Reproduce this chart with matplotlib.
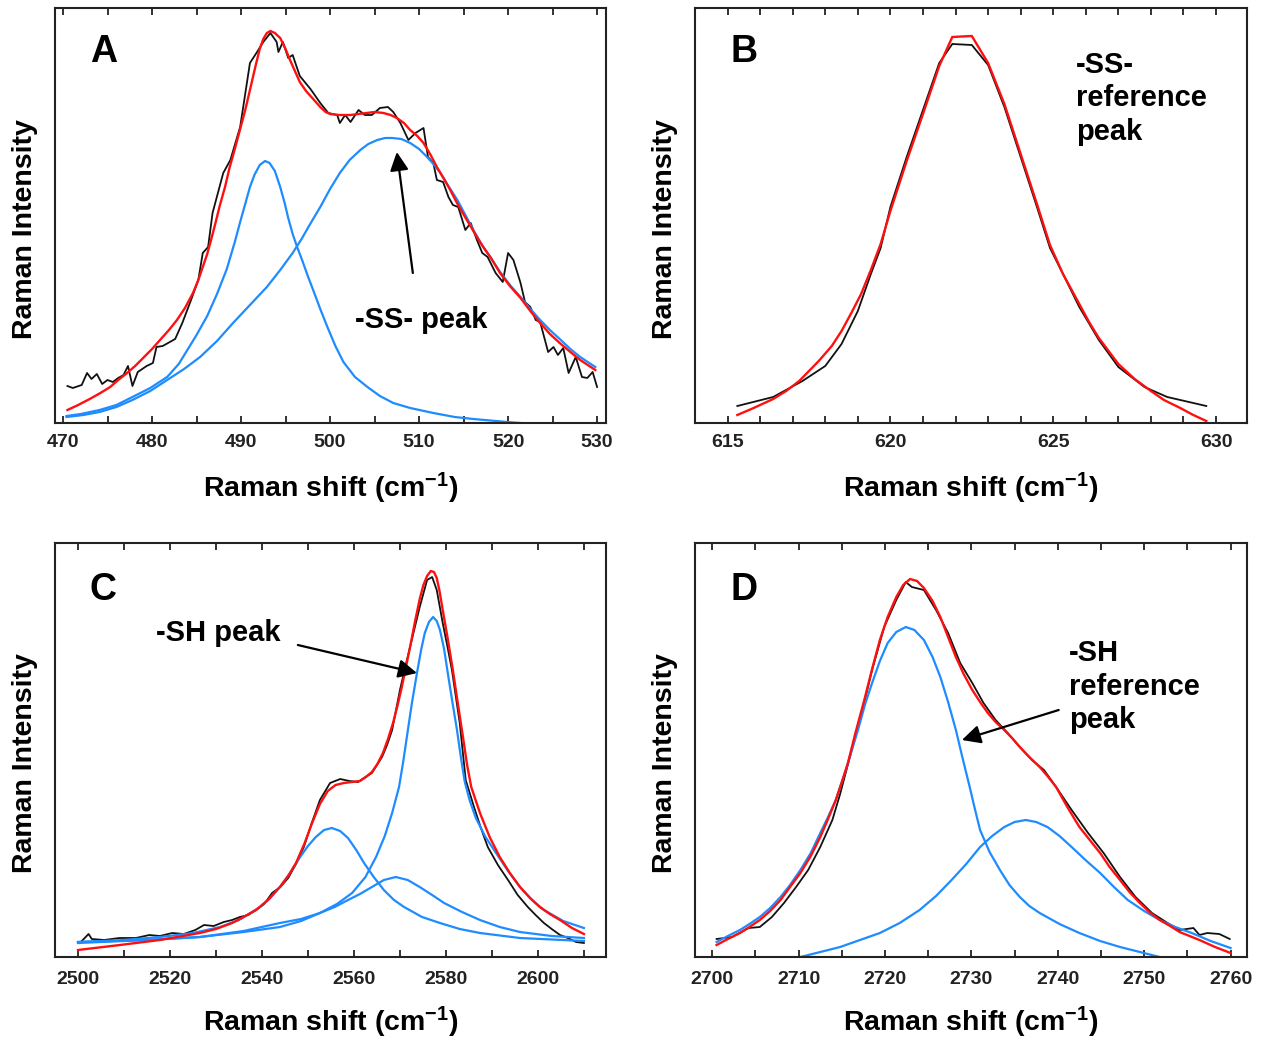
import matplotlib
matplotlib.use('Agg')
import matplotlib.pyplot as plt
from matplotlib.ticker import MultipleLocator

plt.rcParams['font.family'] = ['Liberation Sans', 'DejaVu Sans']
plt.rcParams['font.weight'] = 'bold'
plt.rcParams['mathtext.fontset'] = 'custom'
plt.rcParams['mathtext.rm'] = 'Liberation Sans:bold'
plt.rcParams['mathtext.bf'] = 'Liberation Sans:bold'
plt.rcParams['mathtext.default'] = 'bf'

BLACK = '#111111'
RED = '#ff1010'
BLUE = '#1e8cff'

# ---- panel A: -SS- region (x = Raman shift, y = intensity, arb. units)
a_meas = [(470.5, 37), (471.1, 35), (472.1, 38), (472.7, 50), (473.2, 44), (473.8, 49),
          (474.4, 39), (475.0, 43), (475.6, 41), (476.2, 45), (476.8, 48), (477.3, 57),
          (477.8, 37), (478.4, 51), (479.4, 57), (480.1, 60), (480.5, 76), (481.2, 77),
          (482.0, 81), (482.6, 84), (483.4, 100), (484.3, 121), (485.2, 143), (485.7, 170),
          (486.3, 176), (486.8, 210), (488.0, 250), (488.8, 263), (489.9, 296), (491.0, 360),
          (491.8, 371), (492.5, 381), (493.3, 390), (494.0, 381), (494.2, 371), (494.7, 381),
          (495.3, 365), (495.8, 368), (496.6, 347), (497.8, 334), (498.9, 320), (499.8, 310),
          (500.8, 308), (501.1, 300), (501.7, 308), (502.3, 301), (503.2, 313), (503.9, 308),
          (504.7, 308), (505.6, 315), (506.5, 316), (507.1, 311), (507.9, 300), (508.8, 283),
          (509.6, 290), (510.5, 295), (511.0, 266), (511.6, 260), (512.0, 243), (512.7, 241),
          (513.3, 226), (513.8, 218), (514.4, 216), (515.2, 193), (515.8, 200), (516.5, 183),
          (517.1, 170), (517.7, 166), (518.6, 150), (519.4, 141), (520.0, 170), (520.6, 163),
          (521.4, 140), (521.9, 121), (522.5, 116), (523.1, 103), (523.6, 101), (524.5, 71),
          (525.1, 76), (525.6, 68), (526.2, 75), (526.8, 50), (527.6, 66), (528.3, 46),
          (528.9, 45), (529.5, 51), (530.0, 36)]
a_fit = [(470.5, 13), (471.7, 18), (473.0, 24), (474.2, 30), (475.3, 36), (476.2, 43),
         (477.2, 50), (478.1, 57), (479.0, 65), (480.0, 74), (480.9, 83), (481.9, 93),
         (482.8, 103), (483.7, 115), (484.6, 130), (485.2, 143), (485.7, 156), (486.2, 169),
         (486.6, 182), (487.1, 199), (487.6, 217), (488.2, 236), (488.7, 255), (489.3, 274),
         (489.9, 294), (490.5, 314), (491.0, 333), (491.6, 356), (492.1, 374), (492.5, 384),
         (492.9, 390), (493.3, 392), (493.8, 390), (494.4, 385), (495.0, 374), (495.5, 363),
         (496.1, 351), (496.6, 341), (497.3, 332), (498.0, 325), (498.9, 316), (499.5, 311),
         (500.0, 309), (501.0, 308), (502.3, 308), (503.2, 309), (504.1, 310), (505.0, 311),
         (506.0, 310), (506.8, 308), (507.5, 305), (508.3, 300), (509.0, 293), (509.8, 287),
         (510.5, 280), (511.3, 268), (512.0, 256), (512.8, 244), (513.5, 233), (514.2, 221),
         (514.9, 210), (515.7, 198), (516.5, 186), (517.2, 176), (518.0, 166), (519.1, 150),
         (520.2, 137), (521.4, 125), (522.5, 112), (523.6, 100), (524.7, 89), (525.8, 80),
         (527.0, 71), (528.1, 63), (529.8, 53)]
a_comp1 = [(470.4, 7), (472.0, 9), (474.1, 13), (476.0, 18), (477.8, 26), (479.8, 35),
           (481.7, 46), (483.0, 59), (483.9, 72), (485.0, 88), (486.2, 107), (487.3, 129),
           (488.4, 154), (489.3, 181), (489.9, 201), (490.5, 220), (491.0, 236), (491.5, 248),
           (492.1, 258), (492.7, 262), (493.2, 260), (493.8, 252), (494.4, 236), (494.9, 220),
           (495.3, 205), (495.8, 189), (496.3, 176), (496.9, 162), (497.5, 147), (498.1, 133),
           (498.9, 114), (499.7, 96), (500.6, 77), (501.5, 61), (502.8, 46), (504.2, 36),
           (505.6, 27), (507.1, 20), (509.0, 15), (511.6, 10), (514.0, 6), (516.1, 4),
           (519.9, 1), (521.4, 0)]
a_comp2 = [(470.4, 6), (472.3, 8), (474.1, 11), (476.0, 16), (477.8, 23), (479.8, 32),
           (481.7, 43), (483.6, 54), (485.4, 66), (487.3, 82), (489.1, 100), (491.0, 118),
           (492.9, 136), (494.4, 153), (495.8, 170), (496.8, 184), (497.7, 198), (498.9, 216),
           (500.0, 234), (501.1, 250), (502.2, 263), (503.4, 273), (504.3, 279), (505.3, 283),
           (506.2, 285), (507.0, 285), (508.0, 284), (509.0, 280), (510.0, 274), (510.9, 266),
           (511.7, 258), (512.4, 250), (513.3, 237), (514.3, 223), (515.2, 208), (516.1, 193),
           (517.0, 179), (518.0, 166), (519.1, 151), (520.3, 137), (521.4, 126), (522.5, 114),
           (523.6, 103), (524.7, 93), (525.8, 84), (527.0, 74), (528.1, 66), (529.8, 56)]

# ---- panel B: -SS- reference peak
b_meas = [(615.3, 17), (616.4, 26), (617.3, 42), (618.0, 57), (618.5, 79), (619.0, 112),
          (619.4, 149), (619.7, 175), (620.0, 216), (620.5, 266), (621.0, 313), (621.5, 360),
          (621.9, 379), (622.5, 378), (623.0, 358), (623.5, 316), (624.0, 266), (624.5, 216),
          (624.9, 175), (625.3, 149), (625.8, 116), (626.4, 83), (627.0, 56), (627.8, 36),
          (628.5, 26), (629.7, 17)]
b_fit = [(615.3, 8), (615.8, 15), (616.4, 24), (616.8, 32), (617.2, 42), (617.8, 62),
         (618.2, 77), (618.5, 92), (618.8, 110), (619.1, 129), (619.4, 153), (619.7, 179),
         (620.0, 212), (620.5, 262), (621.0, 309), (621.5, 357), (621.9, 386), (622.5, 387),
         (623.0, 360), (623.5, 319), (624.0, 269), (624.5, 219), (624.9, 178), (625.3, 149),
         (625.8, 119), (626.1, 101), (626.4, 85), (627.0, 59), (627.5, 44), (628.0, 32),
         (628.4, 23), (628.9, 15), (629.3, 8), (629.7, 2)]

# ---- panel C: -SH region
c_meas = [(2500.4, 14), (2502.3, 23), (2503.0, 18), (2505.7, 17), (2509.0, 19), (2512.6, 19),
          (2515.5, 22), (2517.8, 21), (2520.5, 24), (2523.0, 23), (2525.5, 27), (2527.4, 32),
          (2529.5, 31), (2531.7, 35), (2533.5, 37), (2535.2, 40), (2537.0, 42), (2538.7, 47),
          (2540.5, 53), (2542.2, 64), (2544.0, 70), (2545.7, 79), (2547.4, 93), (2549.1, 110),
          (2550.9, 135), (2552.6, 157), (2554.8, 174), (2557.0, 178), (2559.0, 176), (2560.9, 175),
          (2562.5, 180), (2563.9, 184), (2566.1, 200), (2567.2, 212), (2568.3, 227), (2570.0, 267),
          (2571.1, 289), (2572.2, 310), (2573.3, 331), (2574.3, 350), (2575.9, 377), (2577.0, 380),
          (2578.0, 367), (2579.3, 334), (2580.3, 311), (2581.3, 287), (2583.0, 234), (2584.3, 177),
          (2586.1, 150), (2587.6, 129), (2589.1, 110), (2591.3, 92), (2593.5, 77), (2595.6, 62),
          (2597.8, 50), (2599.5, 42), (2601.3, 34), (2603.0, 28), (2604.8, 22), (2606.5, 19),
          (2608.3, 15), (2610.0, 14)]
c_fit = [(2500.0, 7), (2509.1, 12), (2517.8, 17), (2526.5, 24), (2530.0, 28), (2533.5, 34),
         (2536.0, 40), (2538.7, 47), (2541.3, 57), (2543.9, 70), (2545.7, 81), (2547.4, 94),
         (2549.2, 113), (2550.9, 134), (2552.6, 153), (2554.3, 166), (2556.0, 172), (2557.8, 174),
         (2559.5, 175), (2561.3, 176), (2562.6, 180), (2563.9, 185), (2565.1, 193), (2566.3, 204),
         (2567.4, 218), (2568.5, 234), (2569.5, 252), (2570.4, 270), (2571.3, 290), (2572.2, 310),
         (2573.3, 336), (2574.3, 358), (2575.1, 372), (2575.9, 381), (2576.7, 386), (2577.4, 385),
         (2578.0, 379), (2578.6, 366), (2579.3, 347), (2580.4, 318), (2581.5, 287), (2582.6, 253),
         (2583.7, 220), (2584.6, 192), (2585.5, 170), (2587.4, 144), (2589.5, 120), (2591.7, 100),
         (2593.9, 84), (2596.1, 70), (2598.3, 59), (2600.4, 50), (2602.6, 43), (2604.8, 37),
         (2607.4, 29), (2610.0, 23)]
c_comp1 = [(2500.0, 15), (2510.0, 17), (2517.8, 20), (2525.0, 24), (2530.9, 30), (2535.0, 37),
           (2539.6, 50), (2541.8, 59), (2543.9, 70), (2546.1, 84), (2548.3, 100), (2550.0, 111),
           (2551.7, 120), (2553.5, 127), (2555.2, 129), (2557.0, 126), (2558.7, 119), (2560.5, 107),
           (2562.2, 94), (2564.3, 80), (2566.5, 67), (2568.7, 57), (2570.9, 50), (2574.8, 40),
           (2578.7, 34), (2583.0, 28), (2587.4, 24), (2596.1, 19), (2610.0, 16)]
c_comp2 = [(2500.0, 14), (2515.0, 17), (2526.5, 20), (2536.0, 25), (2543.9, 30), (2548.5, 36),
           (2552.6, 44), (2555.8, 50), (2558.7, 57), (2561.3, 63), (2563.9, 70), (2566.5, 77),
           (2569.1, 80), (2571.7, 77), (2574.3, 70), (2577.0, 62), (2579.6, 54), (2583.5, 45),
           (2587.4, 37), (2591.7, 30), (2596.1, 25), (2603.0, 21), (2610.0, 19)]
c_comp3 = [(2500.0, 15), (2515.0, 17), (2526.5, 20), (2536.0, 26), (2543.9, 34), (2548.5, 38),
           (2552.6, 44), (2556.3, 53), (2559.6, 64), (2562.5, 80), (2564.8, 100), (2566.7, 121),
           (2568.3, 144), (2569.8, 170), (2570.7, 195), (2571.5, 220), (2572.6, 254), (2573.7, 284),
           (2574.6, 307), (2575.4, 324), (2576.3, 335), (2577.2, 340), (2578.0, 336), (2578.7, 327),
           (2579.6, 308), (2580.4, 284), (2581.4, 255), (2582.4, 227), (2583.3, 198), (2584.1, 175),
           (2585.2, 156), (2586.5, 139), (2588.6, 120), (2590.9, 104), (2593.5, 86), (2596.1, 70),
           (2598.7, 57), (2601.3, 47), (2605.5, 36), (2610.0, 29)]

# ---- panel D: -SH reference region
d_meas = [(2700.5, 18), (2702.3, 20), (2704.2, 29), (2705.5, 30), (2706.9, 40), (2708.3, 54),
          (2709.7, 70), (2711.1, 87), (2712.5, 110), (2713.9, 137), (2714.8, 163), (2716.6, 222),
          (2717.6, 255), (2718.5, 287), (2719.9, 330), (2721.3, 357), (2722.4, 375), (2723.1, 370),
          (2724.5, 367), (2725.9, 347), (2727.3, 324), (2728.7, 294), (2730.1, 274), (2731.4, 254),
          (2732.8, 237), (2734.2, 224), (2735.6, 210), (2737.0, 197), (2738.4, 187), (2739.8, 170),
          (2741.6, 147), (2743.5, 124), (2745.3, 104), (2747.2, 80), (2749.0, 60), (2750.9, 44),
          (2752.7, 34), (2754.1, 27), (2755.7, 29), (2756.4, 22), (2757.3, 24), (2758.7, 23),
          (2759.9, 18)]
d_fit = [(2700.5, 12), (2701.8, 18), (2703.2, 24), (2704.3, 30), (2705.5, 37), (2706.7, 46),
         (2707.9, 57), (2709.0, 70), (2710.2, 84), (2711.4, 101), (2712.5, 120), (2713.4, 138),
         (2714.3, 157), (2715.0, 175), (2715.7, 194), (2716.6, 225), (2717.6, 257), (2718.5, 288),
         (2719.4, 317), (2720.3, 340), (2721.3, 360), (2722.1, 372), (2722.9, 378), (2723.7, 376),
         (2724.5, 369), (2725.5, 356), (2726.4, 340), (2727.3, 320), (2728.2, 300), (2729.1, 283),
         (2730.1, 267), (2731.0, 255), (2731.9, 244), (2732.8, 235), (2733.8, 227), (2734.7, 219),
         (2735.6, 210), (2736.7, 200), (2737.9, 190), (2738.8, 181), (2739.8, 170), (2741.1, 150),
         (2742.5, 130), (2743.7, 117), (2744.9, 104), (2746.0, 90), (2747.2, 77), (2748.3, 65),
         (2749.5, 54), (2750.6, 45), (2751.8, 37), (2753.0, 31), (2754.1, 25), (2756.4, 17),
         (2758.2, 10), (2760.0, 4)]
d_comp1 = [(2700.5, 15), (2701.8, 21), (2703.2, 27), (2704.3, 33), (2705.5, 40), (2706.7, 49),
           (2707.9, 60), (2709.0, 72), (2710.2, 87), (2711.4, 104), (2712.5, 124), (2713.4, 140),
           (2714.3, 157), (2715.5, 188), (2716.9, 228), (2717.7, 253), (2718.5, 274), (2719.4, 296),
           (2720.3, 314), (2721.3, 325), (2722.4, 330), (2723.4, 327), (2724.5, 317), (2725.5, 300),
           (2726.4, 280), (2727.3, 255), (2728.2, 227), (2729.0, 198), (2729.8, 170), (2730.4, 148),
           (2731.0, 127), (2732.1, 105), (2733.3, 87), (2734.4, 72), (2735.6, 60), (2736.7, 51),
           (2737.9, 44), (2740.2, 33), (2742.5, 24), (2744.9, 16), (2747.2, 10), (2749.5, 5),
           (2751.8, 0)]
d_comp2 = [(2710.2, 0), (2712.5, 5), (2714.8, 10), (2717.1, 17), (2719.4, 24), (2721.7, 34),
           (2724.0, 47), (2725.9, 61), (2727.7, 77), (2729.4, 93), (2731.0, 110), (2732.4, 121),
           (2733.8, 130), (2735.0, 135), (2736.3, 137), (2737.5, 135), (2738.8, 130), (2740.2, 121),
           (2741.6, 110), (2743.2, 97), (2744.9, 84), (2746.5, 70), (2748.1, 57), (2750.0, 46),
           (2751.8, 37), (2753.6, 30), (2755.5, 24), (2757.7, 16), (2760.0, 9)]


def draw(ax, pts, color, lw):
    xs, ys = zip(*pts)
    ax.plot(xs, ys, color=color, lw=lw, solid_joinstyle='round')


def setup(ax, xlim, ymax, major, minor, letter, letter_y, pad):
    ax.set_xlim(*xlim)
    ax.set_ylim(0, ymax)
    ax.xaxis.set_major_locator(MultipleLocator(major))
    ax.xaxis.set_minor_locator(MultipleLocator(minor))
    ax.tick_params(axis='x', which='both', direction='in', top=True, length=5,
                   width=1.3, labelsize=14, pad=pad, colors='#222222')
    ax.set_yticks([])
    for s in ax.spines.values():
        s.set_linewidth(1.5)
        s.set_color('#222222')
    ax.set_xlabel('Raman shift (cm$^{-1}$)', fontsize=20.5, fontweight='bold')
    ax.set_ylabel('Raman Intensity', fontsize=20.5, fontweight='bold')
    ax.xaxis.set_label_coords(0.5, -0.115)
    ax.yaxis.set_label_coords(-0.031, 0.468)
    ax.text(0.088, letter_y, letter, transform=ax.transAxes, fontsize=27,
            fontweight='bold', ha='center', va='center')


fig = plt.figure(figsize=(12.65, 10.38), dpi=100)
axA = fig.add_axes([0.04348, 0.59249, 0.43557, 0.39981])
axB = fig.add_axes([0.54941, 0.59249, 0.43636, 0.39981])
axC = fig.add_axes([0.04348, 0.07803, 0.43557, 0.39884])
axD = fig.add_axes([0.54941, 0.07803, 0.43636, 0.39884])

arrow = dict(arrowstyle='-|>', color='black', lw=1.6, mutation_scale=28,
             shrinkA=0, shrinkB=0)

# A
draw(axA, a_meas, BLACK, 1.3)
draw(axA, a_comp1, BLUE, 1.6)
draw(axA, a_comp2, BLUE, 1.6)
draw(axA, a_fit, RED, 1.7)
setup(axA, (469.1, 531.0), 415, 10, 5, 'A', 0.894, 8)
axA.annotate('', xy=(507.5, 271), xytext=(509.3, 150), arrowprops=arrow)
axA.text(510.2, 103, '-SS- peak', fontsize=21, fontweight='bold', ha='center', va='center')

# B
draw(axB, b_meas, BLACK, 1.3)
draw(axB, b_fit, RED, 1.7)
setup(axB, (614.0, 630.95), 415, 5, 1, 'B', 0.894, 8)
axB.text(625.7, 372, '-SS-\nreference\npeak', fontsize=21, fontweight='bold',
         ha='left', va='top', linespacing=1.25)

# C
draw(axC, c_meas, BLACK, 1.3)
draw(axC, c_comp1, BLUE, 1.6)
draw(axC, c_comp2, BLUE, 1.6)
draw(axC, c_comp3, BLUE, 1.6)
draw(axC, c_fit, RED, 1.7)
setup(axC, (2495.0, 2614.8), 414, 20, 10, 'C', 0.886, 10)
axC.annotate('', xy=(2573.7, 284), xytext=(2547.8, 312), arrowprops=arrow)
axC.text(2530.4, 324, '-SH peak', fontsize=21, fontweight='bold', ha='center', va='center')

# D
draw(axD, d_meas, BLACK, 1.3)
draw(axD, d_comp1, BLUE, 1.6)
draw(axD, d_comp2, BLUE, 1.6)
draw(axD, d_fit, RED, 1.7)
setup(axD, (2698.0, 2761.9), 414, 10, 5, 'D', 0.886, 10)
axD.annotate('', xy=(2728.9, 217), xytext=(2740.1, 247), arrowprops=arrow)
axD.text(2741.3, 318, '-SH\nreference\npeak', fontsize=21, fontweight='bold',
         ha='left', va='top', linespacing=1.25)

fig.savefig('out.png', dpi=100)
